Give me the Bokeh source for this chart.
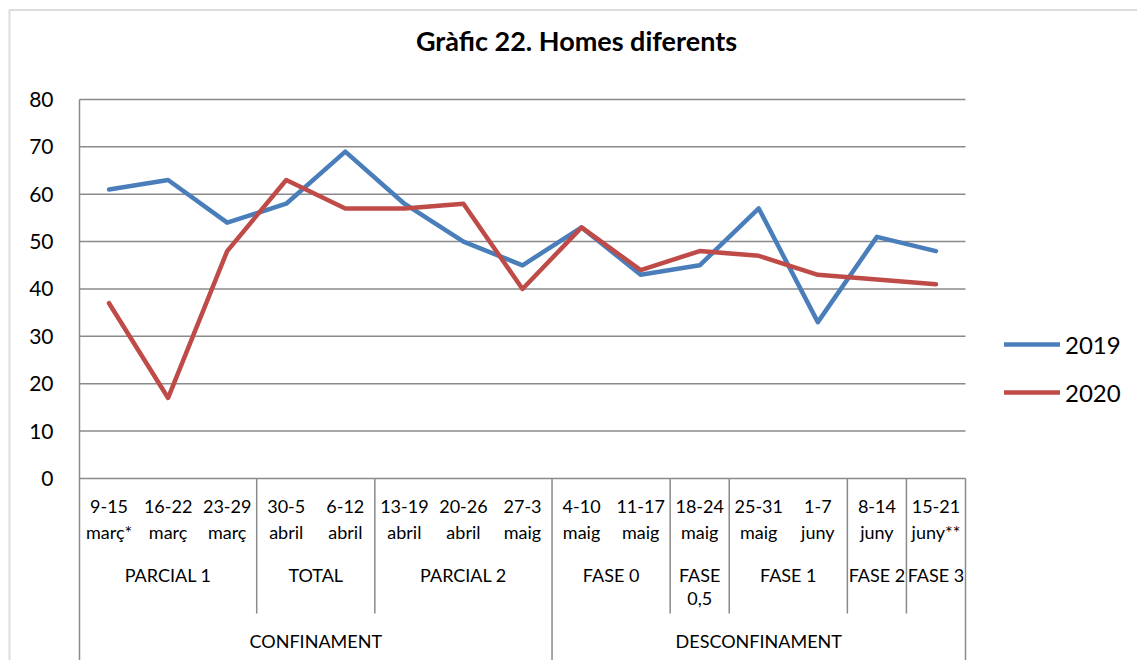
from bokeh.plotting import figure
from bokeh.models import (Range1d, FixedTicker, Legend, LegendItem, Label,
                          BoxAnnotation, ColumnDataSource)
from bokeh.core.properties import value
from bokeh.embed import file_html
from bokeh.resources import INLINE

# ---------------- data ----------------
week_line1 = ["9-15", "16-22", "23-29", "30-5", "6-12", "13-19", "20-26", "27-3",
              "4-10", "11-17", "18-24", "25-31", "1-7", "8-14", "15-21"]
week_line2 = ["març*", "març", "març", "abril", "abril", "abril", "abril", "maig",
              "maig", "maig", "maig", "maig", "juny", "juny", "juny**"]
phase_line1 = ["PARCIAL 1", "TOTAL", "PARCIAL 2", "FASE 0", "FASE", "FASE 1", "FASE 2", "FASE 3"]
phase_line2 = ["", "", "", "", "0,5", "", "", ""]
phase_sizes = [3, 2, 3, 2, 1, 2, 1, 1]
periods = ["CONFINAMENT", "DESCONFINAMENT"]
period_sizes = [8, 7]
v2019 = [61, 63, 54, 58, 69, 58, 50, 45, 53, 43, 45, 57, 33, 51, 48]
v2020 = [37, 17, 48, 63, 57, 57, 58, 40, 53, 44, 48, 47, 43, 42, 41]
y_ticks = [0, 10, 20, 30, 40, 50, 60, 70, 80]
title_text = "Gràfic 22. Homes diferents"

# ---------------- style ----------------
FONT = "Lato"
GRID = "#8a8a8a"
BLUE = "#4A7EBB"
RED = "#BE4B48"

n = len(week_line1)
xs = [i + 0.5 for i in range(n)]

# frame covers the whole figure; plot area = x 0..15, y 0..80
p = figure(width=1137, height=660, output_backend="svg", toolbar_location=None,
           x_range=Range1d(-1.3375, 17.912), y_range=Range1d(-38.42, 100.897),
           min_border=0)
p.outline_line_color = None
p.xaxis.visible = False
p.xgrid.visible = False
p.ygrid.visible = False

ya = p.yaxis[0]
ya.fixed_location = 0
ya.bounds = (-38.42, 80)
ya.ticker = FixedTicker(ticks=y_ticks)
ya.major_tick_out = 0
ya.major_tick_in = 0
ya.minor_tick_out = 0
ya.minor_tick_in = 0
ya.axis_line_color = GRID
ya.axis_line_width = 1.5
ya.major_label_standoff = 26
ya.major_label_text_font = FONT
ya.major_label_text_font_size = "21px"
ya.major_label_text_color = "#000000"

# horizontal gridlines over the plot area
p.segment(x0=[0] * len(y_ticks), x1=[n] * len(y_ticks), y0=y_ticks, y1=y_ticks,
          line_color=GRID, line_width=1.5)

# ---------------- lines ----------------
src = ColumnDataSource(dict(x=xs, y19=v2019, y20=v2020))
r19 = p.line("x", "y19", source=src, line_color=BLUE, line_width=4.5,
             line_join="round", line_cap="round")
r20 = p.line("x", "y20", source=src, line_color=RED, line_width=4.5,
             line_join="round", line_cap="round")

# ---------------- category table ----------------
def centers(sizes):
    out, acc = [], 0
    for s in sizes:
        out.append(acc + s / 2)
        acc += s
    return out

def bounds(sizes):
    out, acc = [], 0
    for s in sizes[:-1]:
        acc += s
        out.append(acc)
    return out

txt = dict(text_font=value(FONT), text_font_size="18px", text_color="#000000",
           text_align="center", text_baseline="middle")
p.text(x=xs, y=[-5.9] * n, text=week_line1, **txt)
p.text(x=xs, y=[-11.2] * n, text=week_line2, **txt)
pc = centers(phase_sizes)
p.text(x=pc, y=[-20.4] * len(pc), text=phase_line1, **txt)
p.text(x=pc, y=[-25.4] * len(pc), text=phase_line2, **txt)
perc = centers(period_sizes)
p.text(x=perc, y=[-34.4] * len(perc), text=periods, **txt)

pb = [b for b in bounds(phase_sizes) if b not in bounds(period_sizes)]
p.segment(x0=pb, x1=pb, y0=[0] * len(pb), y1=[-28.5] * len(pb),
          line_color=GRID, line_width=1.5)
fb = bounds(period_sizes) + [n]
p.segment(x0=fb, x1=fb, y0=[0] * len(fb), y1=[-40] * len(fb),
          line_color=GRID, line_width=1.5)

# ---------------- title ----------------
p.add_layout(Label(x=576, y=620, x_units="screen", y_units="screen",
                   text=title_text, text_font=FONT, text_font_style="bold",
                   text_font_size="27px", text_align="center",
                   text_baseline="middle", text_color="#000000"))

# ---------------- outer chart border ----------------
p.add_layout(BoxAnnotation(left=9, right=1300, top=650.5, bottom=-100,
                           left_units="screen", right_units="screen",
                           top_units="screen", bottom_units="screen",
                           fill_color=None, line_color="#8f8f8f", line_width=2))

# ---------------- legend ----------------
legend = Legend(items=[LegendItem(label="2019", renderers=[r19]),
                       LegendItem(label="2020", renderers=[r20])],
                location=(1004, 253.5), margin=0, padding=0, spacing=19,
                glyph_width=56, glyph_height=24, label_height=24,
                label_standoff=5, label_text_font=FONT,
                label_text_font_size="24px", label_text_color="#000000",
                border_line_color=None, background_fill_color=None)
p.add_layout(legend, "center")

open("out.html", "w").write(file_html(p, INLINE))
